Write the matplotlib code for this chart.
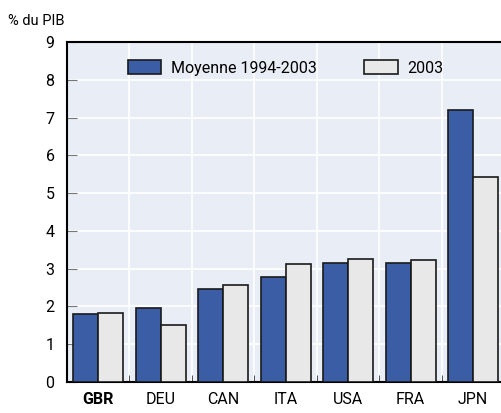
import matplotlib.pyplot as plt
import numpy as np

plt.rcParams['font.family'] = ['Roboto', 'DejaVu Sans']

# données
countries = ['GBR', 'DEU', 'CAN', 'ITA', 'USA', 'FRA', 'JPN']
avg_94_03 = [1.80, 1.95, 2.45, 2.78, 3.14, 3.14, 7.20]
val_2003 = [1.83, 1.50, 2.57, 3.12, 3.26, 3.24, 5.43]

blue = '#3A5DA6'
grey = '#E8E8E8'
bg = '#E9EEF6'

fig = plt.figure(figsize=(5.02, 4.13), dpi=100)
ax = fig.add_axes([0.1335, 0.075, 0.871, 0.823])
ax.set_facecolor(bg)

x = np.arange(len(countries))
w = 0.4
ax.bar(x - w / 2, avg_94_03, w, color=blue, edgecolor='#1a1a1a', linewidth=1.2,
       label='Moyenne 1994-2003', zorder=3)
ax.bar(x + w / 2, val_2003, w, color=grey, edgecolor='#1a1a1a', linewidth=1.2,
       label='2003', zorder=3)

ax.set_xlim(-0.5, len(countries) - 0.5)
ax.set_ylim(0, 9)
ax.set_yticks(range(0, 10))
ax.set_xticks(x)
ax.set_xticklabels(countries, fontsize=11.5)
ax.get_xticklabels()[0].set_fontweight('bold')
ax.set_xticks(x[:-1] + 0.5, minor=True)
ax.tick_params(axis='x', which='major', length=0, pad=7)
ax.tick_params(axis='x', which='minor', direction='in', length=5, color='#333333')
ax.tick_params(axis='y', direction='in', length=7, color='#777777', labelsize=11.5, pad=9)

ax.grid(True, axis='y', color='white', linewidth=1.2, zorder=0)
ax.grid(True, axis='x', which='minor', color='white', linewidth=1.2, zorder=0)
ax.set_axisbelow(True)

for side in ['left', 'top', 'bottom']:
    ax.spines[side].set_color('black')
    ax.spines[side].set_linewidth(1.5)
ax.spines['right'].set_visible(False)

ax.legend(loc='upper center', bbox_to_anchor=(0.5, 0.99), ncol=2, frameon=False,
          fontsize=11.5, handlelength=2.1, handleheight=1.0, columnspacing=3.0,
          handletextpad=0.6)

fig.text(0.016, 0.95, '% du PIB', fontsize=10.5, va='center', ha='left')

fig.savefig('out.png', dpi=100)
